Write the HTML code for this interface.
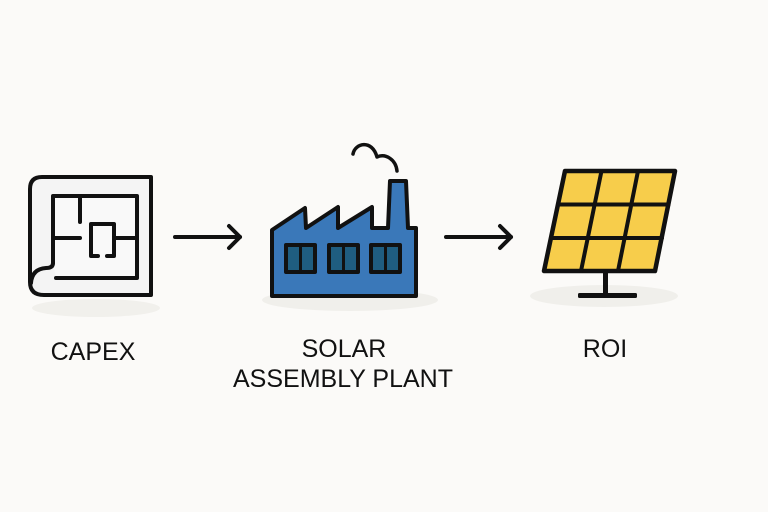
<!DOCTYPE html>
<html>
<head>
<meta charset="utf-8">
<style>
  html,body{margin:0;padding:0;background:#fbfaf8;}
  body{width:768px;height:512px;overflow:hidden;}
  svg{display:block;}
  text{font-family:"Liberation Sans",Arial,sans-serif;fill:#111;font-size:25px;}
</style>
</head>
<body>
<svg width="768" height="512" viewBox="0 0 768 512" xmlns="http://www.w3.org/2000/svg">
  <rect width="768" height="512" fill="#fbfaf8"/>

  <!-- shadows -->
  <ellipse cx="96" cy="308" rx="64" ry="9" fill="#f1f0ec"/>
  <ellipse cx="350" cy="300" rx="88" ry="11" fill="#f0efeb"/>
  <ellipse cx="604" cy="296" rx="74" ry="11" fill="#f0efeb"/>

  <!-- Blueprint (CAPEX) -->
  <g fill="none" stroke="#111" stroke-width="4" stroke-linecap="round" stroke-linejoin="round">
    <path d="M42,177 L151,177 L151,295 L44,295 Q30,295 30,282 L30,189 Q30,177 42,177 Z" fill="#f4f4f4"/>
    <path d="M53,263 L53,196 L137,196 L137,278 L56,278" fill="#f9f9f9" stroke="none"/>
    <path d="M53,263 L53,196 L137,196 L137,278 L56,278"/>
    <path d="M53,263 Q53,268 46,268 Q32,269 31,283"/>
    <path d="M80,196 L80,222"/>
    <path d="M55,238 L80,238"/>
    <path d="M98,256 L91,256 L91,224 L114,224 L114,256 L107,256"/>
    <path d="M114,238 L137,238"/>
  </g>

  <!-- Arrow 1 -->
  <g fill="none" stroke="#111" stroke-width="4" stroke-linecap="round" stroke-linejoin="round">
    <path d="M175,237 L240,237"/>
    <path d="M229,226 L240,237 L229,248"/>
  </g>

  <!-- Factory -->
  <g stroke="#111" stroke-width="4" stroke-linejoin="round" stroke-linecap="round">
    <path d="M272,230 L305,208 L306,228 L338,207 L338,228 L372,207 L372,228 L388,228 L390,181 L406,181 L408,228 L416,228 L416,296 L272,296 Z" fill="#3a78b9"/>
    <path d="M353,154 C355,143 372,139 377,157 C386,153 396,160 397,171" fill="none" stroke-width="3.5"/>
    <g fill="#1f5d80">
      <rect x="286" y="245" width="29" height="27"/>
      <rect x="329" y="245" width="29" height="27"/>
      <rect x="371" y="245" width="29" height="27"/>
    </g>
    <path d="M300.5,245 L300.5,272 M343.5,245 L343.5,272 M385.5,245 L385.5,272" stroke-width="3"/>
  </g>

  <!-- Arrow 2 -->
  <g fill="none" stroke="#111" stroke-width="4" stroke-linecap="round" stroke-linejoin="round">
    <path d="M446,237 L511,237"/>
    <path d="M500,226 L511,237 L500,248"/>
  </g>

  <!-- Solar panel -->
  <g stroke="#111" stroke-linejoin="round" stroke-linecap="round">
    <rect x="603" y="272" width="5" height="23" fill="#111" stroke="none"/>
    <rect x="578" y="293" width="59" height="5" rx="1.5" fill="#111" stroke="none"/>
    <path d="M565,171 L675,171 L655,271 L544,271 Z" fill="#f7cd4b" stroke-width="4.5"/>
    <path d="M558,204.5 L668.5,204.5 M551,238 L662,238" stroke-width="4" fill="none"/>
    <path d="M601.5,171 L581,271 M638,171 L618,271" stroke-width="4" fill="none"/>
  </g>

  <!-- Labels -->
  <text x="93" y="360" text-anchor="middle">CAPEX</text>
  <text x="344" y="357" text-anchor="middle">SOLAR</text>
  <text x="343" y="387" text-anchor="middle">ASSEMBLY PLANT</text>
  <text x="605" y="357" text-anchor="middle">ROI</text>
</svg>
</body>
</html>
